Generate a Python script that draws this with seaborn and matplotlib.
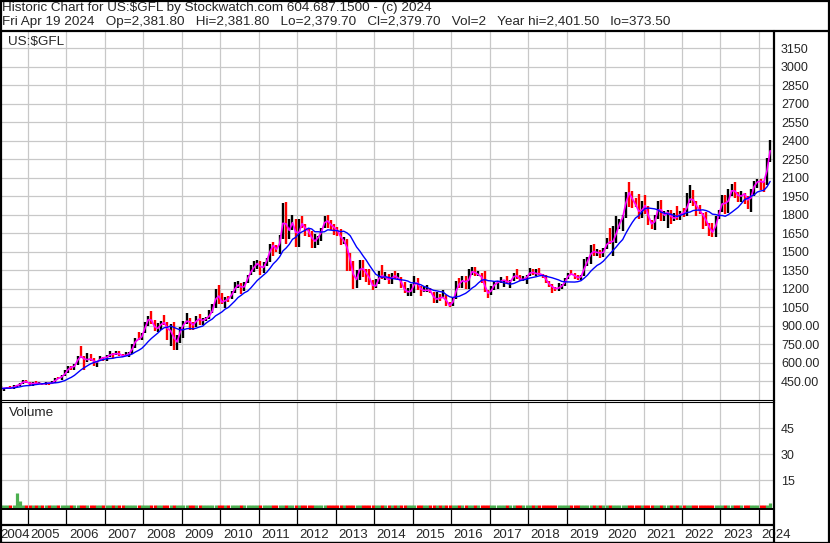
import numpy as np
import pandas as pd
import matplotlib
matplotlib.use('Agg')
import matplotlib.pyplot as plt
from matplotlib.lines import Line2D
import seaborn as sns

# 月度数据 2004-04 .. 2024-04 (US:$GFL, 估读自原图)
month_close = [
    388, 393, 395, 391, 408, 416, 429, 452, 438,                          # 2004 Apr-Dec
    423, 435, 428, 435, 418, 437, 429, 434, 473, 470, 495, 517,           # 2005
    568, 556, 582, 655, 645, 614, 633, 626, 599, 606, 646, 632,           # 2006
    650, 672, 663, 680, 660, 650, 666, 673, 743, 795, 783, 834,           # 2007
    923, 972, 916, 865, 887, 930, 918, 833, 884, 718, 815, 882,           # 2008
    928, 942, 917, 891, 979, 927, 954, 955, 996, 1040, 1182, 1097,        # 2009
    1083, 1119, 1113, 1180, 1212, 1244, 1181, 1248, 1308, 1357, 1385, 1421,  # 2010
    1333, 1410, 1439, 1563, 1536, 1500, 1628, 1829, 1620, 1722, 1746, 1566,  # 2011
    1740, 1711, 1669, 1664, 1562, 1604, 1622, 1692, 1776, 1720, 1714, 1675,  # 2012
    1664, 1580, 1598, 1472, 1393, 1234, 1313, 1396, 1328, 1323, 1250, 1202,  # 2013
    1240, 1326, 1284, 1296, 1250, 1322, 1282, 1287, 1210, 1171, 1175, 1184,  # 2014
    1283, 1213, 1183, 1183, 1190, 1172, 1095, 1132, 1115, 1142, 1064, 1060,  # 2015
    1116, 1238, 1233, 1293, 1215, 1322, 1351, 1309, 1316, 1274, 1173, 1152,  # 2016
    1211, 1249, 1249, 1268, 1268, 1242, 1270, 1322, 1284, 1271, 1275, 1303,  # 2017
    1345, 1318, 1325, 1316, 1305, 1253, 1224, 1206, 1192, 1215, 1222, 1282,  # 2018
    1321, 1316, 1293, 1284, 1305, 1413, 1427, 1529, 1472, 1513, 1464, 1523,  # 2019
    1589, 1566, 1597, 1694, 1751, 1800, 1986, 1968, 1887, 1879, 1776, 1895,  # 2020
    1850, 1734, 1715, 1768, 1906, 1771, 1817, 1818, 1757, 1784, 1776, 1829,  # 2021
    1796, 1909, 1942, 1897, 1848, 1817, 1782, 1726, 1672, 1640, 1768, 1826,  # 2022
    1945, 1836, 1986, 1999, 1982, 1929, 1970, 1966, 1870, 1996, 2057, 2071,  # 2023
    2067, 2054, 2254, 2380,                                                # 2024 Jan-Apr
]

month_high = [
    410, 395, 404, 410, 416, 419, 430, 455, 458,
    440, 440, 448, 438, 432, 443, 430, 448, 475, 480, 499, 541,
    572, 575, 588, 655, 730, 650, 675, 665, 633, 612, 650, 645,
    659, 691, 676, 695, 695, 673, 683, 682, 748, 795, 848, 838,
    930, 975, 1020, 945, 918, 938, 985, 928, 913, 930, 824, 889,
    935, 1000, 960, 929, 981, 990, 960, 973, 1023, 1071, 1195, 1225,
    1162, 1128, 1143, 1181, 1249, 1262, 1245, 1249, 1310, 1388, 1420, 1430,
    1425, 1413, 1448, 1565, 1577, 1556, 1632, 1890, 1900, 1761, 1800, 1763,
    1763, 1790, 1720, 1680, 1670, 1640, 1628, 1694, 1790, 1795, 1755, 1727,
    1698, 1684, 1617, 1605, 1488, 1424, 1348, 1433, 1434, 1361, 1362, 1267,
    1280, 1345, 1390, 1331, 1315, 1326, 1346, 1325, 1290, 1255, 1205, 1239,
    1305, 1284, 1224, 1224, 1232, 1205, 1175, 1170, 1157, 1191, 1146, 1088,
    1127, 1263, 1283, 1305, 1305, 1362, 1376, 1375, 1344, 1325, 1338, 1189,
    1220, 1264, 1262, 1296, 1270, 1298, 1272, 1328, 1357, 1306, 1300, 1308,
    1366, 1362, 1356, 1369, 1320, 1309, 1263, 1238, 1214, 1243, 1238, 1285,
    1326, 1349, 1324, 1310, 1311, 1440, 1453, 1555, 1557, 1519, 1516, 1528,
    1613, 1689, 1704, 1788, 1765, 1800, 1981, 2060, 1990, 1930, 1965, 1906,
    1955, 1873, 1757, 1798, 1912, 1916, 1832, 1834, 1834, 1814, 1870, 1830,
    1853, 1974, 2040, 1998, 1909, 1880, 1815, 1824, 1735, 1730, 1786, 1836,
    1959, 1960, 2009, 2048, 2062, 1983, 1987, 1972, 1953, 2009, 2070, 2090,
    2089, 2065, 2256, 2401,
]

month_low = [
    384, 373, 386, 388, 386, 403, 412, 423, 431,
    419, 412, 424, 423, 414, 414, 418, 426, 434, 463, 460, 490,
    515, 538, 540, 581, 640, 543, 608, 612, 575, 560, 610, 612,
    609, 648, 636, 664, 653, 642, 650, 648, 672, 720, 781, 781,
    838, 900, 912, 856, 850, 860, 907, 786, 736, 700, 705, 758,
    802, 916, 865, 866, 884, 905, 906, 933, 951, 998, 1039, 1075,
    1072, 1045, 1089, 1113, 1165, 1202, 1155, 1180, 1242, 1310, 1330, 1360,
    1310, 1325, 1381, 1419, 1462, 1496, 1480, 1602, 1560, 1600, 1672, 1540,
    1538, 1690, 1627, 1615, 1527, 1526, 1554, 1589, 1688, 1694, 1672, 1635,
    1627, 1555, 1562, 1340, 1338, 1200, 1208, 1272, 1292, 1251, 1227, 1190,
    1202, 1239, 1277, 1268, 1240, 1240, 1280, 1272, 1206, 1161, 1140, 1142,
    1167, 1191, 1142, 1170, 1170, 1162, 1080, 1080, 1098, 1133, 1060, 1050,
    1061, 1111, 1207, 1208, 1199, 1200, 1310, 1302, 1305, 1241, 1171, 1125,
    1146, 1191, 1194, 1245, 1214, 1236, 1205, 1260, 1279, 1260, 1264, 1236,
    1302, 1307, 1303, 1313, 1282, 1247, 1211, 1165, 1180, 1183, 1196, 1222,
    1276, 1308, 1281, 1266, 1268, 1302, 1384, 1400, 1465, 1460, 1445, 1459,
    1517, 1563, 1460, 1568, 1681, 1670, 1768, 1863, 1851, 1860, 1764, 1773,
    1802, 1717, 1680, 1677, 1765, 1750, 1750, 1690, 1721, 1745, 1758, 1753,
    1780, 1788, 1890, 1872, 1785, 1805, 1681, 1710, 1625, 1620, 1617, 1765,
    1823, 1805, 1810, 1949, 1933, 1900, 1902, 1884, 1848, 1823, 1953, 2016,
    2002, 1985, 2039, 2228,
]

month_volume = [
    1, 1, 1, 1, 1, 8, 3, 1, 1,
    1, 1, 1, 1, 1, 1, 1, 1, 1, 1, 1, 1,
    1, 1, 1, 1, 1, 1, 1, 1, 1, 1, 1, 1,
    1, 1, 1, 1, 1, 1, 1, 1, 1, 1, 1, 1,
    1, 1, 1, 1, 1, 1, 1, 1, 1, 1, 1, 1,
    1, 1, 1, 1, 1, 1, 1, 1, 1, 1, 1, 1,
    1, 1, 1, 1, 1, 1, 1, 1, 1, 1, 1, 1,
    1, 1, 1, 1, 1, 1, 1, 1, 1, 1, 1, 1,
    1, 1, 1, 1, 1, 1, 1, 1, 1, 1, 1, 1,
    1, 1, 1, 1, 1, 1, 1, 1, 1, 1, 1, 1,
    1, 1, 1, 1, 1, 1, 1, 1, 1, 1, 1, 1,
    1, 1, 1, 1, 1, 1, 1, 1, 1, 1, 1, 1,
    1, 1, 1, 1, 1, 1, 1, 1, 1, 1, 1, 1,
    1, 1, 1, 1, 1, 1, 1, 1, 1, 1, 1, 1,
    1, 1, 1, 1, 1, 1, 1, 1, 1, 1, 1, 1,
    1, 1, 1, 1, 1, 1, 1, 1, 1, 1, 1, 1,
    1, 1, 1, 1, 1, 1, 1, 1, 1, 1, 1, 1,
    1, 1, 1, 1, 1, 1, 1, 1, 1, 1, 1, 1,
    1, 1, 1, 1, 1, 1, 1, 1, 1, 1, 1, 1,
    1, 1, 1, 1, 1, 1, 1, 1, 1, 1, 1, 1,
    1, 1, 1, 2,
]

years = list(range(2004, 2025))
price_ticks = [450, 600, 750, 900, 1050, 1200, 1350, 1500, 1650, 1800, 1950,
               2100, 2250, 2400, 2550, 2700, 2850, 3000, 3150]
price_tick_labels = ['450.00', '600.00', '750.00', '900.00', '1050', '1200', '1350',
                     '1500', '1650', '1800', '1950', '2100', '2250', '2400', '2550',
                     '2700', '2850', '3000', '3150']
volume_ticks = [15, 30, 45]

header_1 = 'Historic Chart for US:$GFL by Stockwatch.com 604.687.1500 - (c) 2024'
header_2 = ('Fri Apr 19 2024   Op=2,381.80   Hi=2,381.80   Lo=2,379.70   '
            'Cl=2,379.70   Vol=2   Year hi=2,401.50   lo=373.50')

# 整理数据
dates = pd.date_range('2004-04-01', periods=len(month_close), freq='MS')
df = pd.DataFrame({'date': dates, 'close': month_close, 'high': month_high,
                   'low': month_low, 'volume': month_volume})
df['x'] = df['date'].dt.year + (df['date'].dt.month - 1) / 12 + 1 / 24
df['open'] = df['close'].shift(1).fillna(df['close'].iloc[0])
df['up'] = df['close'] >= df['open']
df['ma_fast'] = df['close'].rolling(2, min_periods=1).mean()
df['ma_slow'] = df['close'].rolling(10, min_periods=1).mean()

# 样式
sns.set_style('white')
plt.rcParams['font.family'] = ['Liberation Sans', 'DejaVu Sans']
FS = 9
FS_HEAD = 9.7

W, H = 830, 543
fig = plt.figure(figsize=(W / 100, H / 100), dpi=100)


def box(x0, y0, x1, y1):
    return [x0 / W, 1 - y1 / H, (x1 - x0) / W, (y1 - y0) / H]


PX_YEAR = 38.47
x_left = 2005 - 28 / PX_YEAR
x_right = 2005 + (774 - 28) / PX_YEAR
grid_c = '#c8c8c8'

ax = fig.add_axes(box(0, 32, 774, 400))
ax_v = fig.add_axes(box(0, 402, 774, 509))
ax_d = fig.add_axes(box(0, 509, 774, 543))

for a in (ax, ax_v):
    a.set_xlim(x_left, x_right)
    a.set_xticks(years[1:])
    a.tick_params(axis='x', length=0, labelbottom=False)
    a.grid(True, color=grid_c, linewidth=0.9)
    a.set_axisbelow(True)
    a.yaxis.tick_right()
    a.tick_params(axis='y', length=0, pad=5, labelsize=FS)
    for s in a.spines.values():
        s.set_color('black')
    a.spines['left'].set_linewidth(1.6)
    a.spines['right'].set_visible(False)
    a.spines['top'].set_visible(False)
    a.spines['bottom'].set_linewidth(0.8)

ax_v.spines['top'].set_visible(True)
ax_v.spines['top'].set_linewidth(0.8)
ax_v.spines['bottom'].set_visible(False)

# 价格面板
bar_colors = np.where(df['up'], 'black', '#ff0000')
ax.vlines(df['x'], df['low'], df['high'], colors=bar_colors, linewidth=1.7)
sns.lineplot(x=df['x'], y=df['ma_fast'], ax=ax, color='#ff00ff', linewidth=1.2)
sns.lineplot(x=df['x'], y=df['ma_slow'], ax=ax, color='#0000ff', linewidth=1.0)
ax.set_ylim(296, 3280)
ax.set_yticks(price_ticks)
ax.set_yticklabels(price_tick_labels)
ax.set_xlabel('')
ax.set_ylabel('')

# 成交量面板
vol_colors = np.where(df['up'], '#4caf50', '#ff0000')
ax_v.set_ylim(-1.45, 60)
ax_v.vlines(df['x'], -2, df['volume'], colors=vol_colors, linewidth=2.3)
ax_v.set_yticks(volume_ticks)
ax_v.set_yticklabels([str(v) for v in volume_ticks])

# 日期条
ax_d.set_xlim(x_left, x_right)
ax_d.set_ylim(0, 1)
ax_d.set_xticks([])
ax_d.set_yticks([])
for s in ax_d.spines.values():
    s.set_color('black')
ax_d.spines['right'].set_visible(False)
ax_d.spines['left'].set_linewidth(1.6)
ax_d.spines['top'].set_linewidth(1.4)
ax_d.spines['bottom'].set_linewidth(1.6)
ax_d.axhline(0.52, color='black', linewidth=1.6)
ax_d.vlines(years[1:], 0.52, 1, colors='black', linewidth=0.9)
for yr in years:
    xpos = yr + 2.5 / PX_YEAR
    if yr == years[0]:
        xpos = x_left
    ax_d.text(xpos, 0.24, str(yr), fontsize=9.5, va='center', ha='left', clip_on=False)

# 标题栏、面板名称与边框
fig.text(2 / W, 1 - 8.5 / H, header_1, fontsize=FS_HEAD, va='center', ha='left')
fig.text(2 / W, 1 - 22 / H, header_2, fontsize=FS_HEAD, va='center', ha='left')
fig.text(8 / W, 1 - 42 / H, 'US:$GFL', fontsize=FS_HEAD, va='center', ha='left')
fig.text(9 / W, 1 - 413 / H, 'Volume', fontsize=FS_HEAD, va='center', ha='left')
fig.add_artist(Line2D([0, 1], [1 - 31 / H] * 2, color='black', linewidth=1.6))
fig.add_artist(Line2D([774 / W] * 2, [0, 1 - 31 / H], color='black', linewidth=1.6))
fig.add_artist(plt.Rectangle((0.5 / W, 0.5 / H), 1 - 1.5 / W, 1 - 1.5 / H,
                             transform=fig.transFigure, fill=False,
                             edgecolor='black', linewidth=1.6))

fig.savefig('out.png', dpi=100)
